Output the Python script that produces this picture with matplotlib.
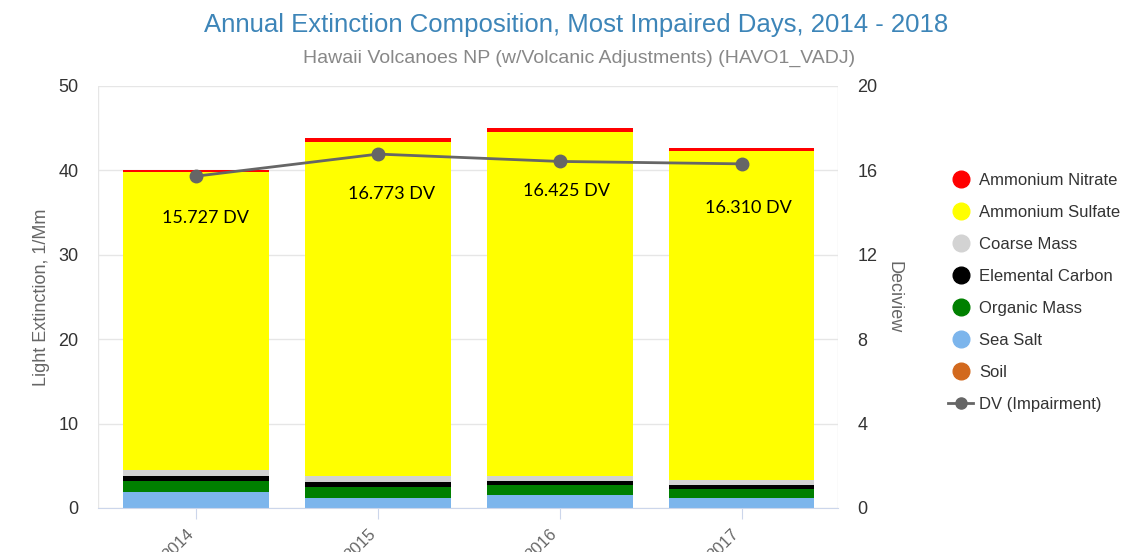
import numpy as np
import matplotlib.pyplot as plt
from matplotlib.lines import Line2D

plt.rcParams['font.family'] = ['Liberation Sans', 'DejaVu Sans']

# データ
years = ['2014', '2015', '2016', '2017']
soil = [0.03, 0.03, 0.03, 0.03]
sea_salt = [1.9, 1.2, 1.5, 1.2]
organic_mass = [1.3, 1.3, 1.15, 1.0]
elemental_carbon = [0.6, 0.5, 0.47, 0.47]
coarse_mass = [0.65, 0.8, 0.66, 0.63]
ammonium_sulfate = [35.3, 39.5, 40.7, 39.0]
ammonium_nitrate = [0.25, 0.47, 0.47, 0.31]
dv = [15.727, 16.773, 16.425, 16.310]
dv_labels = ['15.727 DV', '16.773 DV', '16.425 DV', '16.310 DV']
label_offsets = [(9, -42), (13, -40), (7, -30), (7, -44)]

series = [
    ('Soil', soil, '#d2691e'),
    ('Sea Salt', sea_salt, '#7cb5ec'),
    ('Organic Mass', organic_mass, '#008000'),
    ('Elemental Carbon', elemental_carbon, '#000000'),
    ('Coarse Mass', coarse_mass, '#d3d3d3'),
    ('Ammonium Sulfate', ammonium_sulfate, '#ffff00'),
    ('Ammonium Nitrate', ammonium_nitrate, '#ff0000'),
]

fig = plt.figure(figsize=(11.24, 5.52), dpi=100)
ax = fig.add_axes([98 / 1124, 1 - 508 / 552, 740 / 1124, (508 - 86) / 552])

x = np.arange(len(years))
bottom = np.zeros(len(years))
for name, vals, col in series:
    ax.bar(x, vals, width=0.8, bottom=bottom, color=col, zorder=2)
    bottom += np.array(vals)

ax.set_xlim(-0.54, 3.53)
ax.set_ylim(0, 50)
ax.set_yticks(range(0, 51, 10))
ax.grid(axis='y', color='#e6e6e6', lw=1, zorder=0)
ax.set_xticks(x)
ax.set_xticklabels(years, rotation=45, ha='right', va='top', color='#666666', fontsize=12)
ax.tick_params(axis='x', length=8, color='#ccd6eb', pad=5)
ax.tick_params(axis='y', length=0, labelsize=13, labelcolor='#333333', pad=14)
ax.set_ylabel('Light Extinction, 1/Mm', color='#666666', fontsize=13, labelpad=6)
for s in ['left', 'right', 'top']:
    ax.spines[s].set_visible(False)
ax.spines['bottom'].set_color('#ccd6eb')
ax.axvline(-0.54, color='#e6e6e6', lw=1)
ax.axvline(3.53, color='#e6e6e6', lw=1)

ax2 = ax.twinx()
ax2.set_ylim(0, 20)
ax2.set_yticks(range(0, 21, 4))
ax2.tick_params(axis='y', length=0, labelsize=13, labelcolor='#333333', pad=14)
for s in ['left', 'right', 'top', 'bottom']:
    ax2.spines[s].set_visible(False)
ax2.set_ylabel('Deciview', color='#666666', fontsize=13, rotation=270, labelpad=18)
ax2.plot(x, dv, color='#666666', lw=2, marker='o', markersize=9, zorder=3)
for i in range(len(years)):
    ax2.annotate(dv_labels[i], (x[i], dv[i]), xytext=label_offsets[i], textcoords='offset pixels',
                 ha='center', va='center', fontsize=13, family=['Lato', 'DejaVu Sans'], color='black')

# タイトル
fig.text(576 / 1124, 1 - 25 / 552, 'Annual Extinction Composition, Most Impaired Days, 2014 - 2018',
         ha='center', va='center', fontsize=18.5, color='#3d85b8')
fig.text(579 / 1124, 1 - 58 / 552, 'Hawaii Volcanoes NP (w/Volcanic Adjustments) (HAVO1_VADJ)',
         ha='center', va='center', fontsize=14, color='#888888')

# 凡例
handles = [Line2D([], [], ls='none', marker='o', markersize=12, color=col, label=name)
           for name, vals, col in series[::-1]]
handles.append(Line2D([], [], color='#666666', lw=2, marker='o', markersize=8, label='DV (Impairment)'))
fig.legend(handles=handles, loc='upper left', bbox_to_anchor=(933 / 1124, 1 - 158 / 552),
           frameon=False, fontsize=12, labelspacing=1.02, handlelength=1.5, handletextpad=0.35,
           labelcolor='#333333')

plt.savefig('out.png', dpi=100)
